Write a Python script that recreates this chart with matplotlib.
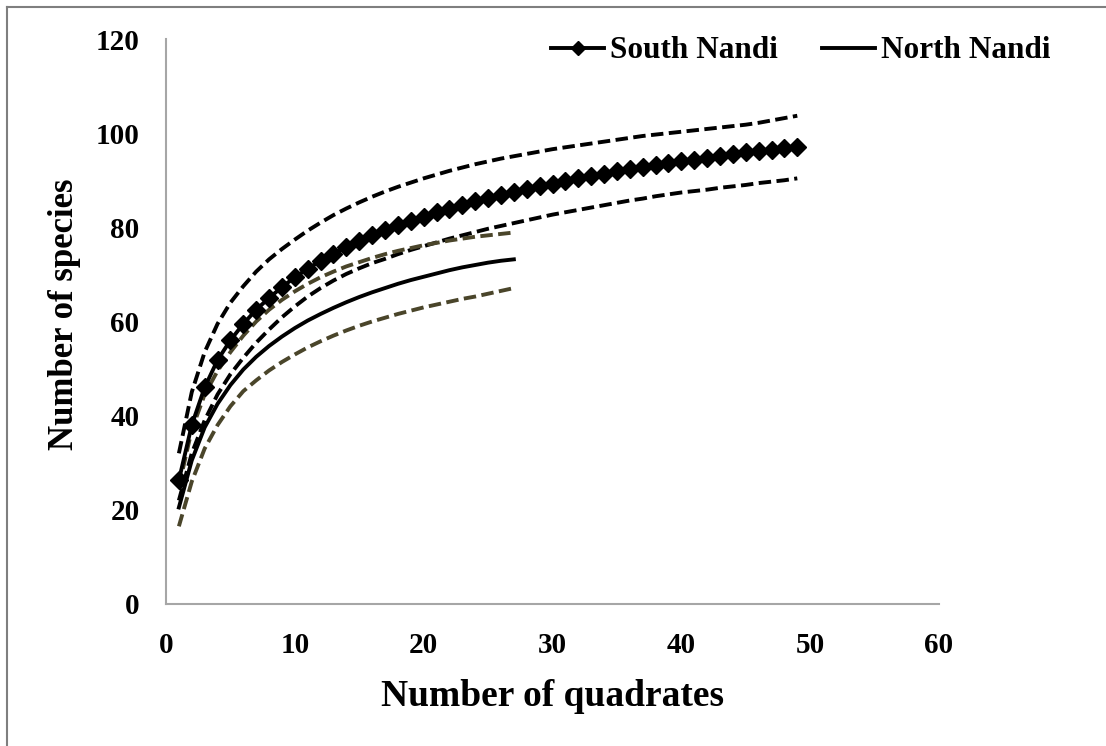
import matplotlib

matplotlib.use("Agg")
import matplotlib.pyplot as plt
from matplotlib.lines import Line2D

# Species accumulation (rarefaction) curves with 95% confidence bounds
south_quadrats = list(range(1, 50))
south_species = [
    26.3, 38.0, 46.0, 51.8, 56.0, 59.5, 62.5, 65.0, 67.3, 69.4,
    71.2, 72.9, 74.4, 75.8, 77.1, 78.3, 79.4, 80.4, 81.4, 82.3,
    83.2, 84.0, 84.8, 85.5, 86.2, 86.9, 87.5, 88.1, 88.7, 89.3,
    89.8, 90.4, 90.9, 91.4, 91.9, 92.3, 92.8, 93.2, 93.6, 94.0,
    94.4, 94.8, 95.2, 95.5, 95.9, 96.2, 96.5, 96.8, 97.1,
]
south_upper = [
    32.0, 45.0, 53.5, 59.5, 64.0, 67.5, 70.6, 73.2, 75.4, 77.4,
    79.3, 81.0, 82.6, 84.0, 85.3, 86.5, 87.6, 88.6, 89.5, 90.4,
    91.2, 92.0, 92.7, 93.4, 94.0, 94.6, 95.1, 95.6, 96.1, 96.6,
    97.0, 97.4, 97.8, 98.2, 98.6, 99.0, 99.4, 99.7, 100.0, 100.3,
    100.6, 100.9, 101.2, 101.5, 101.8, 102.2, 102.7, 103.2, 103.7,
]
south_lower = [
    22.0, 32.0, 39.0, 44.5, 48.8, 52.3, 55.5, 58.3, 60.9, 63.2,
    65.3, 67.1, 68.7, 70.1, 71.3, 72.4, 73.3, 74.3, 75.2, 76.0,
    76.8, 77.6, 78.3, 79.0, 79.7, 80.3, 80.9, 81.5, 82.1, 82.7,
    83.2, 83.7, 84.2, 84.7, 85.2, 85.7, 86.1, 86.6, 87.0, 87.4,
    87.7, 88.0, 88.4, 88.7, 89.0, 89.4, 89.7, 90.0, 90.4,
]

north_quadrats = list(range(1, 28))
north_species = [
    20.5, 30.5, 37.5, 42.5, 46.5, 49.8, 52.5, 54.8, 56.8, 58.6,
    60.2, 61.6, 62.9, 64.1, 65.2, 66.2, 67.1, 68.0, 68.8, 69.5,
    70.2, 70.9, 71.5, 72.0, 72.5, 72.9, 73.2,
]
north_upper = [
    25.0, 37.0, 44.5, 49.5, 53.5, 57.0, 60.0, 62.5, 64.6, 66.4,
    68.0, 69.4, 70.6, 71.7, 72.6, 73.5, 74.3, 75.0, 75.6, 76.2,
    76.7, 77.2, 77.6, 78.0, 78.3, 78.6, 78.9,
]
north_lower = [
    16.5, 26.0, 33.0, 38.0, 42.0, 45.2, 47.5, 49.6, 51.4, 53.0,
    54.5, 55.8, 57.0, 58.1, 59.1, 60.0, 60.8, 61.6, 62.3, 63.0,
    63.6, 64.2, 64.8, 65.3, 65.9, 66.5, 67.1,
]

x_ticks = [0, 10, 20, 30, 40, 50, 60]
y_ticks = [0, 20, 40, 60, 80, 100, 120]

plt.rcParams["font.family"] = ["Liberation Serif", "DejaVu Serif"]
plt.rcParams["font.weight"] = "bold"

W, H = 1106, 746
fig = plt.figure(figsize=(W / 100, H / 100), dpi=100)
ax = fig.add_axes([166 / W, 1 - 604 / H, 773 / W, 565 / H])

olive = "#4A452A"
lw = 2.8
dash = (0, (3.2, 1.4))

ax.plot(south_quadrats, south_upper, color="black", lw=lw, linestyle=dash, zorder=2)
ax.plot(south_quadrats, south_lower, color="black", lw=lw, linestyle=dash, zorder=2)
ax.plot(north_quadrats, north_upper, color=olive, lw=lw, linestyle=dash, zorder=2)
ax.plot(north_quadrats, north_lower, color=olive, lw=lw, linestyle=dash, zorder=2)
south_line, = ax.plot(south_quadrats, south_species, color="black", lw=lw,
                      marker="D", markersize=9.5, markeredgewidth=1, zorder=3)
north_line, = ax.plot(north_quadrats, north_species, color="black", lw=lw, zorder=3)

ax.set_xlim(0, 60)
ax.set_ylim(0, 120)
ax.set_xticks(x_ticks)
ax.set_yticks(y_ticks)
ax.tick_params(axis="both", length=0, labelsize=21)
ax.tick_params(axis="x", pad=20)
ax.tick_params(axis="y", pad=19)
for lbl in ax.get_xticklabels() + ax.get_yticklabels():
    lbl.set_fontweight("bold")

for side in ["top", "right"]:
    ax.spines[side].set_visible(False)
for side in ["left", "bottom"]:
    ax.spines[side].set_color("#A6A6A6")
    ax.spines[side].set_linewidth(1.5)

ax.set_xlabel("Number of quadrates", fontsize=27, fontweight="bold")
ax.set_ylabel("Number of species", fontsize=25, fontweight="bold")
ax.xaxis.set_label_coords(0.5, -0.132)
ax.yaxis.set_label_coords(-0.110, 0.513)

fig.legend(
    [south_line, north_line],
    ["South Nandi", "North Nandi"],
    loc="center",
    bbox_to_anchor=(801 / W, 1 - 51 / H),
    ncol=2,
    frameon=False,
    prop={"size": 22.5, "weight": "bold"},
    handlelength=1.7,
    handletextpad=0.2,
    columnspacing=1.4,
    borderpad=0,
    markerscale=0.75,
)

# page frame along the top and left edges
fig.add_artist(Line2D([7 / W, 1], [1 - 7 / H, 1 - 7 / H], transform=fig.transFigure,
                      color="#7F7F7F", lw=1.5))
fig.add_artist(Line2D([7 / W, 7 / W], [0, 1 - 7 / H], transform=fig.transFigure,
                      color="#7F7F7F", lw=1.5))

fig.savefig("out.png", dpi=100)
